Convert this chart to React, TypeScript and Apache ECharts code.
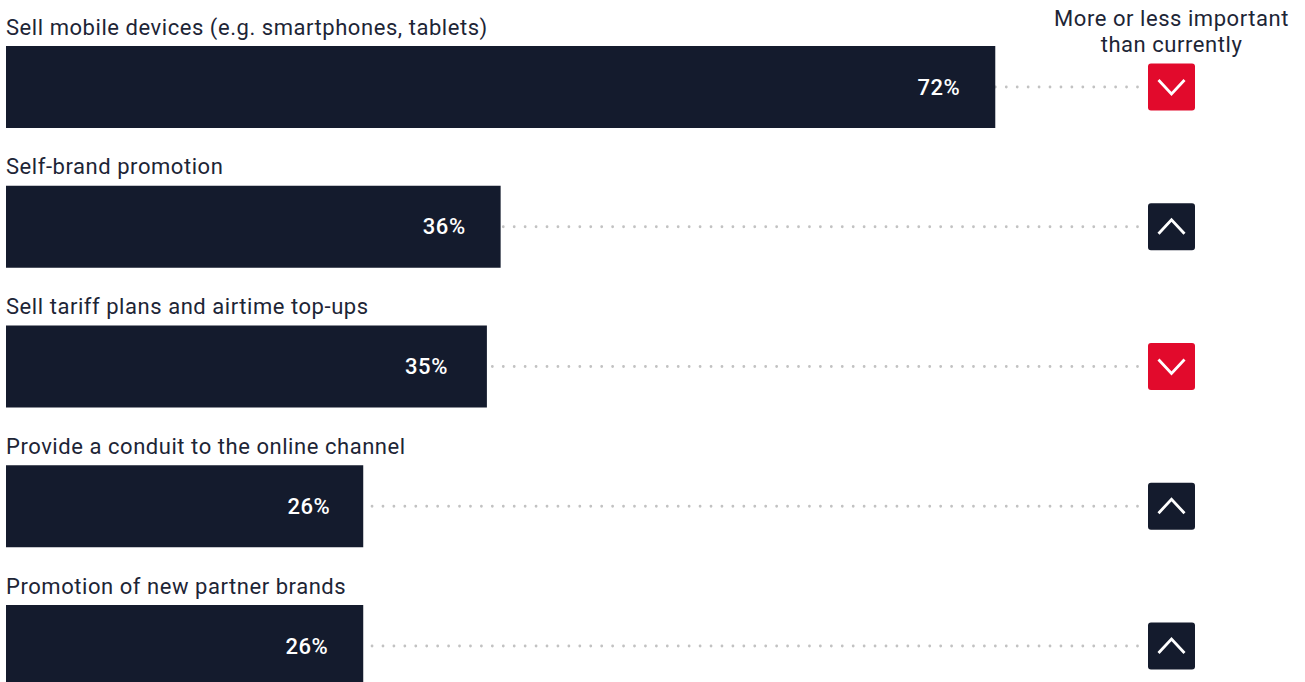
import React, { useEffect, useRef } from "react";
import * as echarts from "echarts";

const categories = [
  "Sell mobile devices (e.g. smartphones, tablets)",
  "Self-brand promotion",
  "Sell tariff plans and airtime top-ups",
  "Provide a conduit to the online channel",
  "Promotion of new partner brands",
];
const shares = [72, 36, 35, 26, 26];
const trends = ["down", "up", "down", "up", "up"];
const headerLines = ["More or less important", "than currently"];

const NAVY = "#141b2d";
const RED = "#e20a2c";
const INK = "#1d2536";
const FONT = "Roboto";

const BAND = 139.75;
const BAR_H = 82;
const PX_PER_UNIT = 13.74;
const ICON_SIZE = 47;
const ICON_LEFT = 1148;
const LEADER_END = 1137.5;
// Gap between the end of each bar and its percentage label.
const LABEL_INSETS = [35, 35, 39, 33, 35];

// Caption above each bar, dotted leader and the trend badge at the right.
function renderRow(params: any, api: any) {
  const i = api.value(0);
  const [x0, cy] = api.coord([0, i]);
  const [xEnd] = api.coord([api.value(1), i]);
  const top = cy - ICON_SIZE / 2;
  const midX = ICON_LEFT + ICON_SIZE / 2;
  const up = trends[i] === "up";
  const dy = up ? 7 : -7;
  return {
    type: "group",
    children: [
      {
        type: "text",
        style: {
          x: x0,
          y: cy - BAR_H / 2 - 8,
          text: categories[i],
          fill: INK,
          font: `400 22px ${FONT}`,
          align: "left",
          verticalAlign: "bottom",
        },
      },
      {
        // Drawn right to left so the dots stay aligned across the rows;
        // the bar sits on top and hides whatever runs under its end.
        type: "line",
        shape: { x1: LEADER_END, y1: cy, x2: xEnd - 2, y2: cy },
        style: { stroke: "#c2c2c2", lineWidth: 2.8, lineCap: "round", lineDash: [0, 10.935] },
      },
      {
        type: "rect",
        shape: { x: ICON_LEFT, y: top, width: ICON_SIZE, height: ICON_SIZE, r: 3 },
        style: { fill: up ? NAVY : RED },
      },
      {
        type: "polyline",
        shape: {
          points: [
            [midX - 13, cy + dy],
            [midX, cy - dy],
            [midX + 13, cy + dy],
          ],
        },
        style: { stroke: "#ffffff", lineWidth: 2.8, fill: "none" },
      },
    ],
  };
}

export default function App() {
  const ref = useRef<HTMLDivElement>(null);

  useEffect(() => {
    document.body.style.margin = "0";
    const chart = echarts.init(ref.current!, undefined, { renderer: "svg" });
    chart.setOption({
      animation: false,
      backgroundColor: "#ffffff",
      grid: {
        left: 6,
        top: 87 - BAND / 2,
        width: 1299,
        height: BAND * categories.length,
        outerBoundsMode: "none",
      },
      xAxis: { type: "value", min: 0, max: 1299 / PX_PER_UNIT, show: false },
      yAxis: { type: "category", inverse: true, data: categories, show: false },
      graphic: headerLines.map((text, i) => ({
        type: "text",
        x: 1171.5,
        y: 18 + i * 26,
        style: {
          text,
          fill: INK,
          font: `400 22px ${FONT}`,
          align: "center",
          verticalAlign: "middle",
        },
      })),
      series: [
        {
          type: "bar",
          z: 3,
          data: shares.map((value, i) => ({
            value,
            label: { distance: LABEL_INSETS[i] },
          })),
          barWidth: BAR_H,
          itemStyle: { color: NAVY },
          silent: true,
          clip: false,
          label: {
            show: true,
            position: "insideRight",
            formatter: "{c}%",
            color: "#ffffff",
            fontFamily: FONT,
            fontSize: 22,
            fontWeight: 500,
          },
        },
        {
          type: "custom",
          z: 2,
          silent: true,
          clip: false,
          encode: { x: 1, y: 0 },
          data: shares.map((v, i) => [i, v]),
          renderItem: renderRow,
        },
      ],
    });
    return () => chart.dispose();
  }, []);

  return <div ref={ref} style={{ width: 1305, height: 682, letterSpacing: "0.55px" }} />;
}
